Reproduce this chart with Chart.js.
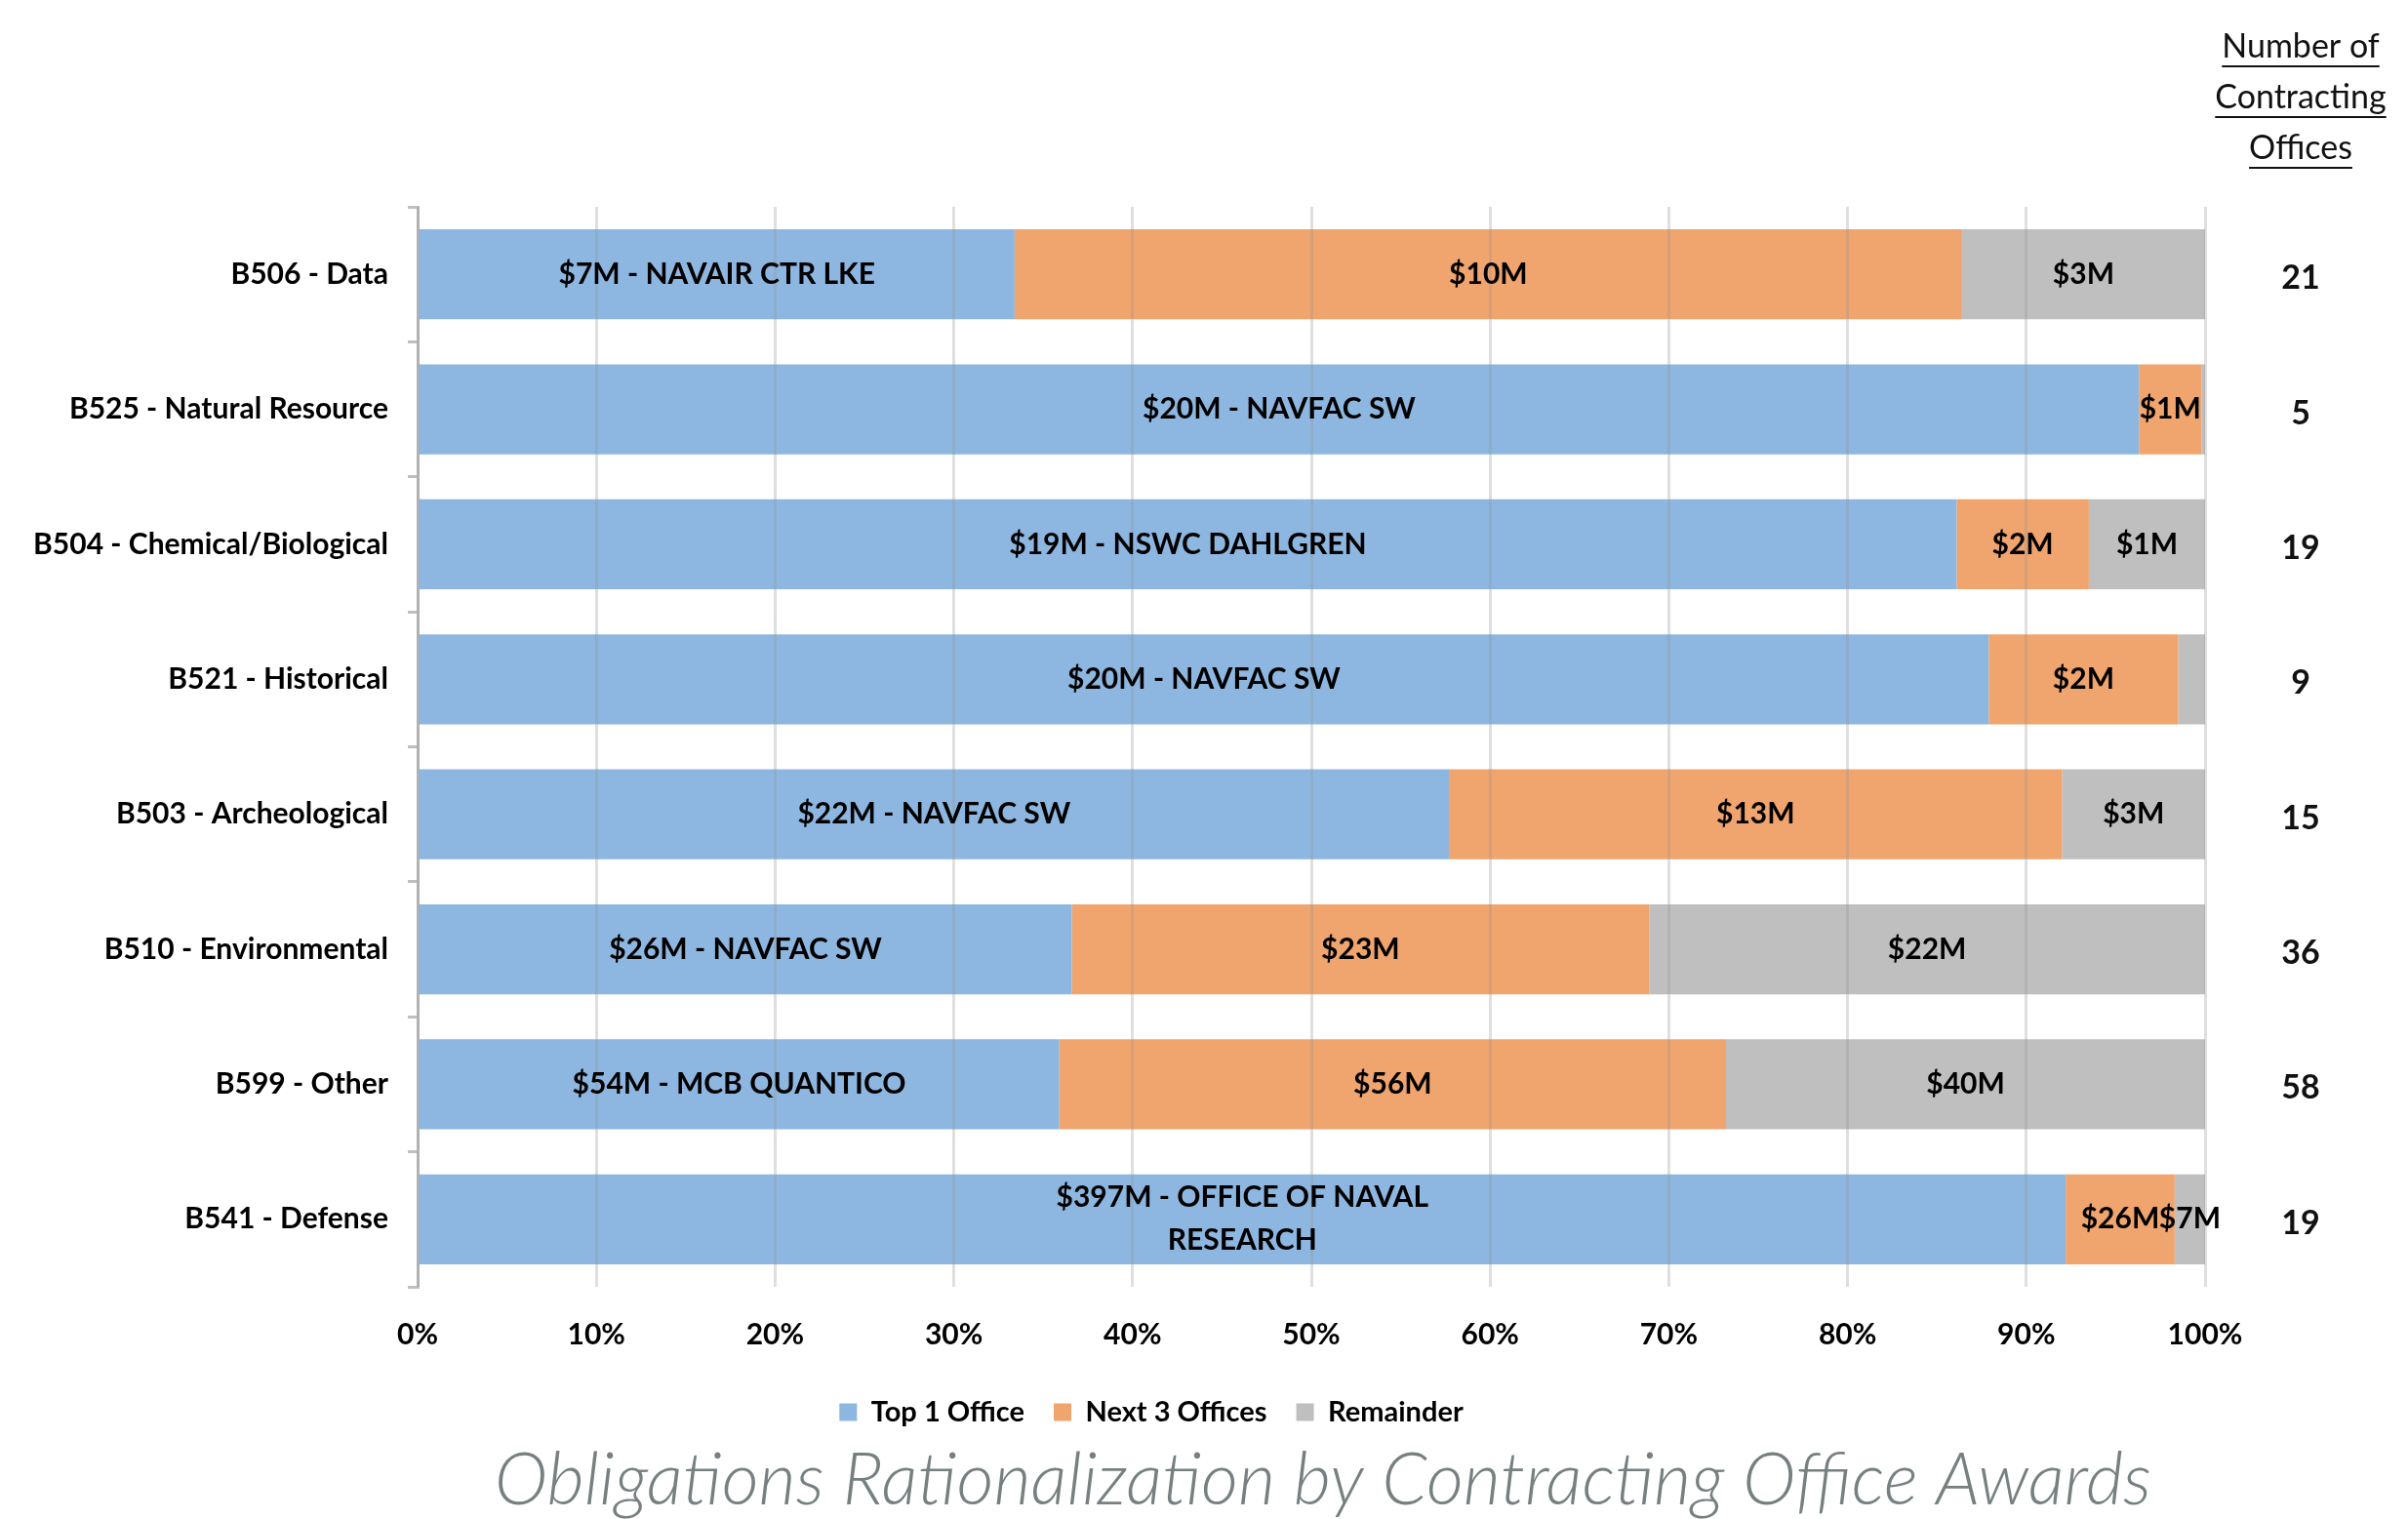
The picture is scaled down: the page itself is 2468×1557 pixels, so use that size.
<!DOCTYPE html>
<html lang="en">
<head>
<meta charset="UTF-8">
<title>Obligations Rationalization by Contracting Office Awards</title>
<script src="https://cdn.jsdelivr.net/npm/chart.js"></script>
<style>
  html, body { margin: 0; padding: 0; background: #fff; }
  #wrap { width: 2468px; height: 1557px; position: relative; }
</style>
</head>
<body>
<div id="wrap"><canvas id="officeChart" width="2468" height="1557"></canvas></div>

<script>
// chart data (share of obligations, %)
const categories = ['B506 - Data', 'B525 - Natural Resource', 'B504 - Chemical/Biological', 'B521 - Historical',
                    'B503 - Archeological', 'B510 - Environmental', 'B599 - Other', 'B541 - Defense'];
const top1Office = [33.4, 96.3, 86.1, 87.9, 57.7, 36.6, 35.9, 92.2];
const next3Offices = [53.0, 3.5, 7.4, 10.6, 34.3, 32.3, 37.3, 6.1];
const remainder = [13.6, 0.2, 6.5, 1.5, 8.0, 31.1, 26.8, 1.7];

const top1Labels = ['$7M - NAVAIR CTR LKE', '$20M - NAVFAC SW', '$19M - NSWC DAHLGREN', '$20M - NAVFAC SW',
                    '$22M - NAVFAC SW', '$26M - NAVFAC SW', '$54M - MCB QUANTICO', ['$397M - OFFICE OF NAVAL', 'RESEARCH']];
const next3Labels = ['$10M', '$1M', '$2M', '$2M', '$13M', '$23M', '$56M', '$26M'];
const remainderLabels = ['$3M', '', '$1M', '', '$3M', '$22M', '$40M', '$7M'];
const officeCounts = [21, 5, 19, 9, 15, 36, 58, 19];

const xTicks = [0, 10, 20, 30, 40, 50, 60, 70, 80, 90, 100];
const chartTitle = 'Obligations Rationalization by Contracting Office Awards';
const FONT = 'Lato, "Open Sans", sans-serif';

// text inside each bar segment
const segmentLabels = {
    id: 'segmentLabels',
    afterDraw(chart) {
        const ctx = chart.ctx;
        ctx.save();
        ctx.font = 'bold 30px ' + FONT;
        ctx.fillStyle = '#000';
        ctx.textAlign = 'center';
        ctx.textBaseline = 'middle';
        chart.data.datasets.forEach((ds, di) => {
            const meta = chart.getDatasetMeta(di);
            meta.data.forEach((bar, i) => {
                const txt = ds.segLabels[i];
                if (!txt) return;
                const cx = (bar.x + bar.base) / 2;
                if (Array.isArray(txt)) {
                    const lh = 44;
                    txt.forEach((line, k) => ctx.fillText(line, cx, bar.y + (k - (txt.length - 1) / 2) * lh));
                } else {
                    ctx.fillText(txt, cx, bar.y);
                }
            });
        });
        ctx.restore();
    }
};

// legend sits a bit left of centre in the original
const legendShift = {
    id: 'legendShift',
    afterLayout(chart) {
        chart.legend.left += 50;
        chart.legend.right += 50;
    }
};

// right-hand column: number of contracting offices + chart title
const sideColumn = {
    id: 'sideColumn',
    afterDraw(chart) {
        const ctx = chart.ctx;
        const yScale = chart.scales.y;
        const cx = 2358;
        ctx.save();
        ctx.textAlign = 'center';
        ctx.textBaseline = 'middle';
        ctx.fillStyle = '#111';
        ctx.strokeStyle = '#111';
        ctx.lineWidth = 2;
        ctx.font = '34px ' + FONT;
        const head = ['Number of', 'Contracting', 'Offices'];
        const headY = [48, 100, 152];
        head.forEach((t, k) => {
            ctx.fillText(t, cx, headY[k]);
            const w = ctx.measureText(t).width;
            ctx.beginPath();
            ctx.moveTo(cx - w / 2, headY[k] + 20);
            ctx.lineTo(cx + w / 2, headY[k] + 20);
            ctx.stroke();
        });
        ctx.font = 'bold 34px ' + FONT;
        officeCounts.forEach((n, i) => {
            ctx.fillText(String(n), cx, yScale.getPixelForValue(i) + 4);
        });

        ctx.font = 'italic 300 74px ' + FONT;
        ctx.fillStyle = '#778080';
        ctx.fillText(chartTitle, 1356, 1518);
        ctx.restore();
    }
};

const ctx = document.getElementById('officeChart').getContext('2d');
const officeChart = new Chart(ctx, {
    type: 'bar',
    data: {
        labels: categories,
        datasets: [
            { label: 'Top 1 Office', data: top1Office, segLabels: top1Labels, backgroundColor: '#8db7e0' },
            { label: 'Next 3 Offices', data: next3Offices, segLabels: next3Labels, backgroundColor: '#f0a46e' },
            { label: 'Remainder', data: remainder, segLabels: remainderLabels, backgroundColor: '#bfbfbf' }
        ]
    },
    plugins: [segmentLabels, legendShift, sideColumn],
    options: {
        indexAxis: 'y',
        responsive: false,
        animation: false,
        barPercentage: 0.667,
        categoryPercentage: 1,
        layout: { padding: { top: 212, right: 208, left: 0, bottom: 85 } },
        plugins: {
            legend: {
                position: 'bottom',
                labels: {
                    boxWidth: 18,
                    boxHeight: 18,
                    padding: 30,
                    color: '#000',
                    font: { family: FONT, size: 29, weight: 'bold' }
                }
            },
            title: { display: false },
            tooltip: { enabled: false }
        },
        scales: {
            x: {
                stacked: true,
                min: 0,
                max: 100,
                afterBuildTicks(scale) { scale.ticks = xTicks.map(v => ({ value: v })); },
                afterFit(scale) { scale.height = 84; },
                grid: { color: 'rgba(150,150,150,0.3)', lineWidth: 3, drawTicks: false, z: 1 },
                border: { display: false },
                ticks: {
                    padding: 31,
                    color: '#000',
                    font: { family: FONT, size: 30, weight: 'bold' },
                    callback: v => v + '%'
                }
            },
            y: {
                stacked: true,
                afterFit(scale) { scale.width = 428; },
                grid: { offset: true, drawOnChartArea: false, tickLength: 10, color: '#bfbfbf', lineWidth: 3 },
                border: { color: '#bfbfbf', width: 3 },
                ticks: {
                    padding: 20,
                    color: '#000',
                    font: { family: FONT, size: 30, weight: 'bold' }
                }
            }
        }
    }
});
</script>
</body>
</html>
